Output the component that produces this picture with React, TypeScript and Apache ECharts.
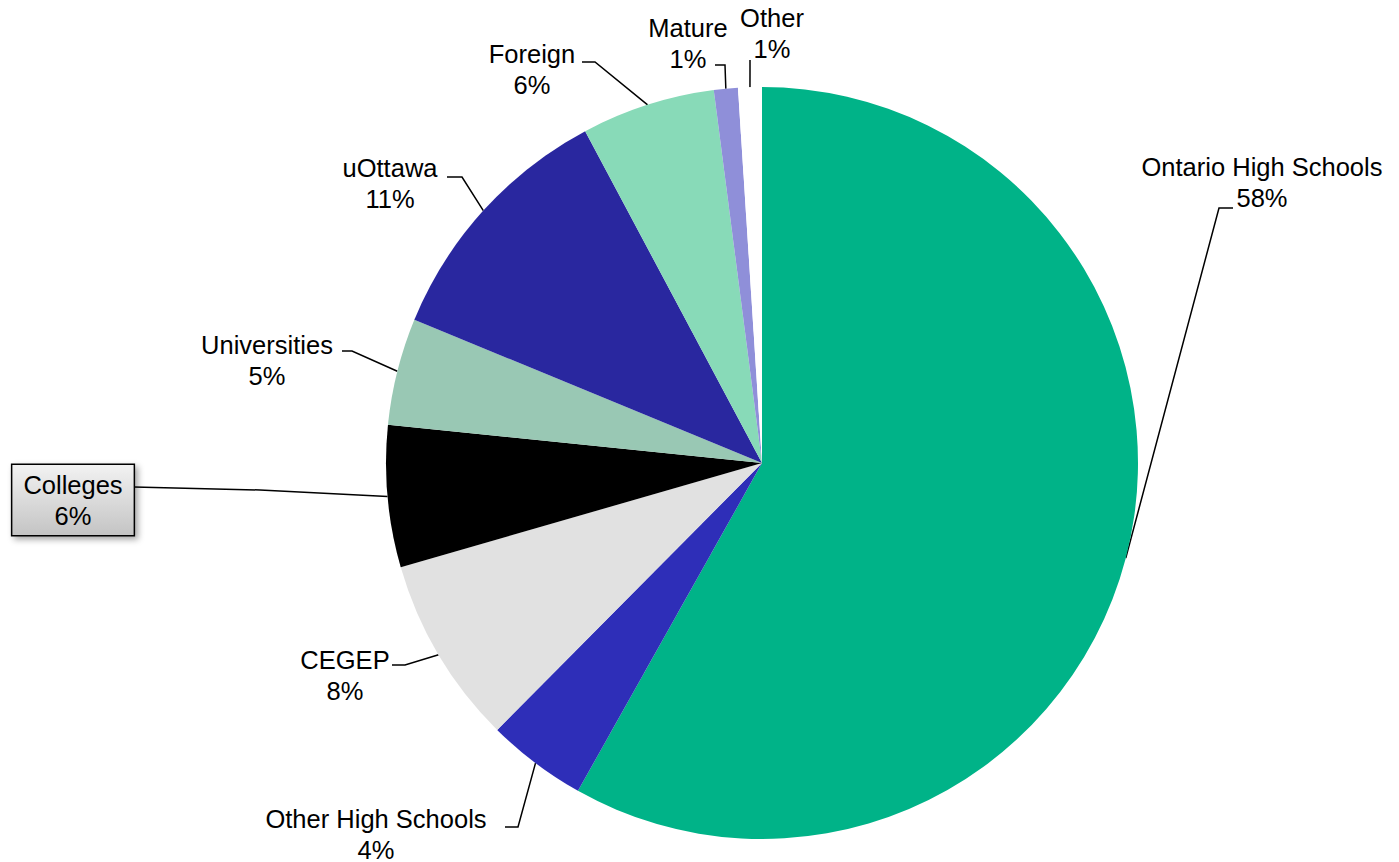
import React, { useEffect, useRef } from "react";
import * as echarts from "echarts";

const categories = [
  "Ontario High Schools",
  "Other High Schools",
  "CEGEP",
  "Colleges",
  "Universities",
  "uOttawa",
  "Foreign",
  "Mature",
  "Other",
];
const values = [58.2, 4.3, 8.1, 6.1, 4.6, 11.0, 5.75, 1.03, 1.02];
const colors = [
  "#00B388",
  "#2E2EB8",
  "#E1E1E1",
  "#000000",
  "#99C8B4",
  "#29279F",
  "#88DAB8",
  "#8F8FD9",
  "#FFFFFF",
];

// label block centres and leader-line bends (layout only)
const labelPos: [number, number][] = [
  [1262, 182],
  [376, 834],
  [345, 675],
  [73, 500],
  [267, 360],
  [390, 183],
  [532, 69],
  [688, 43],
  [772, 33],
];
const bends: [number, number][][] = [
  [[1219, 208], [1233, 208]],
  [[518, 827], [505, 827]],
  [[405, 665], [392, 665]],
  [[260, 490], [134, 487]],
  [[352, 351], [342, 351]],
  [[462, 177], [447, 177]],
  [[595, 62], [582, 62]],
  [[725, 65], [715, 65]],
  [[750, 72], [750, 60]],
];

export default function App() {
  const ref = useRef<HTMLDivElement>(null);
  useEffect(() => {
    if (!ref.current) return;
    const chart = echarts.init(ref.current, null, { renderer: "svg" });
    const data = categories.map((name, i) => {
      const item: any = {
        name,
        value: values[i],
        itemStyle: { color: colors[i] },
      };
      if (name === "Colleges") {
        item.label = {
          backgroundColor: new echarts.graphic.LinearGradient(0, 0, 0, 1, [
            { offset: 0, color: "#F2F2F2" },
            { offset: 1, color: "#C4C4C4" },
          ]),
          borderColor: "#000",
          borderWidth: 1.5,
          padding: [4, 11, 4, 11],
          shadowBlur: 6,
          shadowOffsetX: 3,
          shadowOffsetY: 3,
          shadowColor: "rgba(0,0,0,0.35)",
        };
      }
      return item;
    });
    chart.setOption({
      animation: false,
      backgroundColor: "#fff",
      series: [
        {
          type: "pie",
          center: [762, 463],
          radius: 376,
          startAngle: 90,
          clockwise: true,
          avoidLabelOverlap: false,
          data,
          itemStyle: { borderWidth: 0 },
          label: {
            show: true,
            position: "outside",
            fontFamily: "Liberation Sans, Arial, sans-serif",
            fontSize: 25.5,
            lineHeight: 31,
            color: "#000",
            align: "center",
            formatter: (p: any) => `${p.name}\n${Math.round(p.percent)}%`,
          },
          labelLine: {
            show: true,
            lineStyle: { color: "#000", width: 1.5 },
          },
          labelLayout: (params: any) => {
            const i = params.dataIndex;
            const start =
              params.labelLinePoints && params.labelLinePoints[0]
                ? params.labelLinePoints[0]
                : bends[i][0];
            return {
              x: labelPos[i][0],
              y: labelPos[i][1],
              align: "center",
              verticalAlign: "middle",
              labelLinePoints: [start, bends[i][0], bends[i][1]],
            };
          },
        },
      ],
    });
    return () => chart.dispose();
  }, []);
  return (
    <div
      ref={ref}
      style={{ position: "fixed", left: 0, top: 0, width: 1399, height: 862 }}
    />
  );
}
